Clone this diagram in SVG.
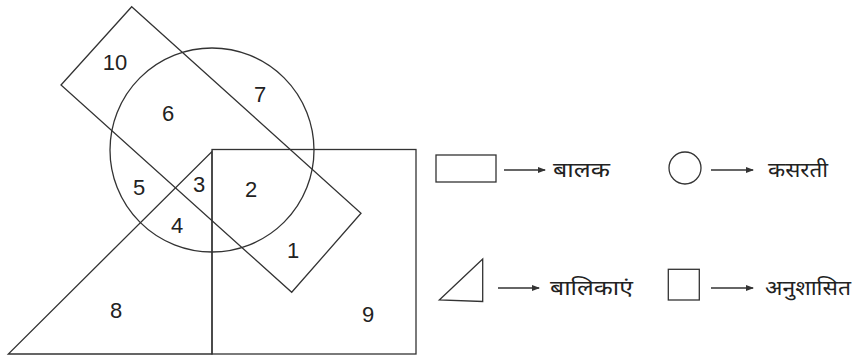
<svg xmlns="http://www.w3.org/2000/svg" width="856" height="356" viewBox="0 0 856 356">
<defs>
<style>
.s{fill:none;stroke:#333;stroke-width:1.3}
.n{font-family:"Liberation Sans",Arial,sans-serif;font-size:22px;fill:#222;text-anchor:middle}
.h{font-family:"Noto Sans Devanagari","Noto Sans","Lohit Devanagari",sans-serif;font-size:20px;fill:#222}
.a{stroke:#333;stroke-width:1.3;fill:none}
</style>
<marker id="ah" markerWidth="8" markerHeight="6" refX="7" refY="3" orient="auto" markerUnits="userSpaceOnUse">
<path d="M0,0 L8,3 L0,6 Z" fill="#333"/>
</marker>
</defs>
<rect width="856" height="356" fill="#fff"/>
<g id="boys"><polygon class="s" points="131.7,6.7 361,213.3 291.7,292.3 61,85"/></g>
<g id="athletes"><circle class="s" cx="212" cy="150" r="102"/></g>
<g id="disciplined"><rect class="s" x="212" y="149.5" width="204" height="204.5"/></g>
<g id="girls"><polygon class="s" points="212,151.5 212,354 8.3,354"/></g>
<g id="labels">
<text class="n" x="115" y="70">10</text>
<text class="n" x="260" y="101.5">7</text>
<text class="n" x="168" y="120.5">6</text>
<text class="n" x="139" y="195">5</text>
<text class="n" x="199" y="191.5">3</text>
<text class="n" x="251" y="196.5">2</text>
<text class="n" x="177" y="233">4</text>
<text class="n" x="293" y="258">1</text>
<text class="n" x="116" y="318">8</text>
<text class="n" x="368" y="321.5">9</text>
</g>
<g id="legend-boys">
<rect class="s" x="436" y="155" width="60" height="27"/>
<text class="h" x="553" y="177" textLength="57" lengthAdjust="spacingAndGlyphs">बालक</text>
</g>
<g id="legend-athletes">
<circle class="s" cx="685" cy="168" r="16"/>
<text class="h" x="768" y="177" textLength="60" lengthAdjust="spacingAndGlyphs">कसरती</text>
</g>
<g id="legend-girls">
<polygon class="s" points="439.3,300 482.7,259 482.7,301.5"/>
<text class="h" x="550" y="295" textLength="83" lengthAdjust="spacingAndGlyphs">बालिकाएं</text>
</g>
<g id="legend-disciplined">
<rect class="s" x="668.3" y="269.3" width="31" height="30.7"/>
<text class="h" x="765" y="295" textLength="86" lengthAdjust="spacingAndGlyphs">अनुशासित</text>
</g>
<g id="connectors">
<line class="a" x1="504" y1="170" x2="545" y2="170" marker-end="url(#ah)"/>
<line class="a" x1="711" y1="170" x2="753" y2="170" marker-end="url(#ah)"/>
<line class="a" x1="498" y1="288" x2="539" y2="288" marker-end="url(#ah)"/>
<line class="a" x1="711" y1="288" x2="753" y2="288" marker-end="url(#ah)"/>
</g>
</svg>
